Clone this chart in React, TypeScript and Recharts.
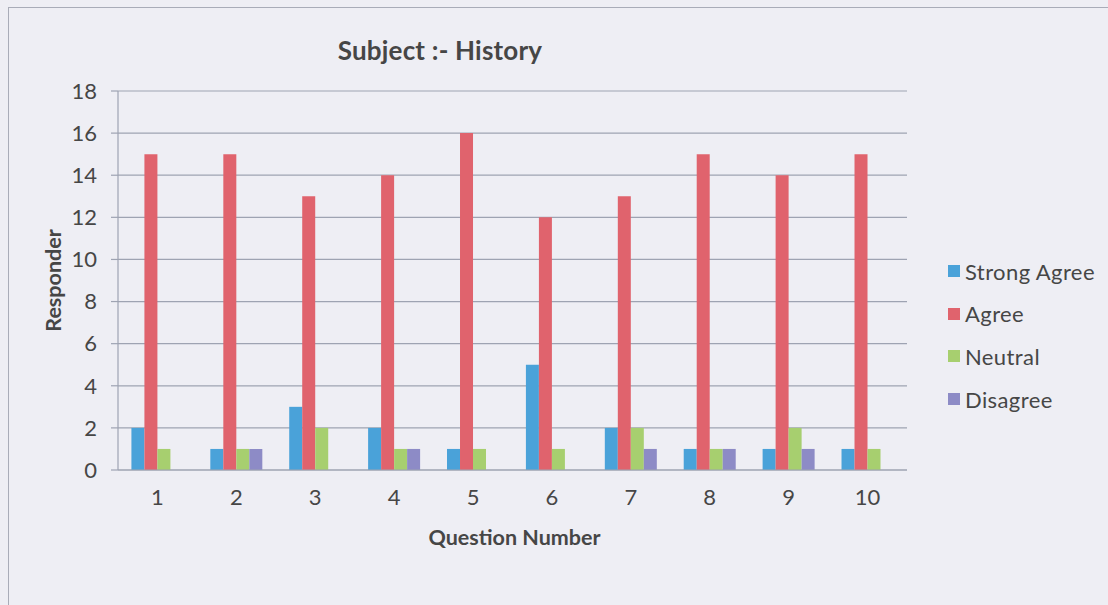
import React from 'react';
import { BarChart, Bar, XAxis, YAxis, CartesianGrid, Label } from 'recharts';

const categories = ['1', '2', '3', '4', '5', '6', '7', '8', '9', '10'];
const strongAgree = [2, 1, 3, 2, 1, 5, 2, 1, 1, 1];
const agree = [15, 15, 13, 14, 16, 12, 13, 15, 14, 15];
const neutral = [1, 1, 2, 1, 1, 1, 2, 1, 2, 1];
const disagree = [0, 1, 0, 1, 0, 0, 1, 1, 1, 0];
const yTicks = [0, 2, 4, 6, 8, 10, 12, 14, 16, 18];

const series = [
  { key: 'strongAgree', name: 'Strong Agree', color: '#4aa2d9' },
  { key: 'agree', name: 'Agree', color: '#e0636d' },
  { key: 'neutral', name: 'Neutral', color: '#a7cf6f' },
  { key: 'disagree', name: 'Disagree', color: '#8d8bc6' },
];

const data = categories.map((c, i) => ({
  q: c,
  strongAgree: strongAgree[i],
  agree: agree[i],
  neutral: neutral[i],
  disagree: disagree[i],
}));

const FONT = 'Lato, "Open Sans", sans-serif';
const TEXT = '#464646';
const GRID = '#9ea3b2';

export default function App() {
  return (
    <div style={{ position: 'absolute', left: 0, top: 0, width: 1108, height: 605, background: '#eeeef4', overflow: 'hidden', fontFamily: FONT }}>
      <div style={{ position: 'absolute', left: 8, top: 7, width: 1200, height: 700, border: '1.5px solid #a9acb8', boxSizing: 'border-box' }} />
      <div style={{ position: 'absolute', left: 0, top: 34, width: 880, textAlign: 'center', fontSize: 26, fontWeight: 700, color: TEXT, lineHeight: '32px', letterSpacing: 0.2 }}>
        Subject :- History
      </div>
      <div style={{ position: 'absolute', left: 0, top: 0 }}>
        <BarChart width={1108} height={605} data={data} margin={{ top: 91, right: 201, bottom: 0, left: 0 }} barCategoryGap="17%" barGap={0}>
          <CartesianGrid vertical={false} stroke={GRID} strokeWidth={1.2} />
          <XAxis dataKey="q" height={135} tickLine={false} tickSize={0} tickMargin={19} axisLine={{ stroke: GRID, strokeWidth: 1.2 }} tick={{ fill: TEXT, fontSize: 22, fontFamily: FONT }}>
            <Label
              content={(props: any) => {
                const vb = props.viewBox || {};
                return (
                  <text x={vb.x + vb.width / 2 + 2} y={vb.y + 67} textAnchor="middle" dominantBaseline="central" fill={TEXT} fontSize={21.5} fontWeight={700} fontFamily={FONT}>
                    Question Number
                  </text>
                );
              }}
            />
          </XAxis>
          <YAxis width={118} domain={[0, 18]} ticks={yTicks} interval={0} tickSize={7} tickMargin={14} tickLine={{ stroke: GRID, strokeWidth: 1.2 }} axisLine={{ stroke: GRID, strokeWidth: 1.2 }} tick={{ fill: TEXT, fontSize: 22, fontFamily: FONT }}>
            <Label
              content={(props: any) => {
                const vb = props.viewBox || {};
                const cy = vb.y + vb.height / 2;
                return (
                  <text x={53} y={cy} transform={`rotate(-90 53 ${cy})`} textAnchor="middle" dominantBaseline="central" fill={TEXT} fontSize={21.5} fontWeight={700} fontFamily={FONT}>
                    Responder
                  </text>
                );
              }}
            />
          </YAxis>
          {series.map((s) => (
            <Bar key={s.key} dataKey={s.key} name={s.name} fill={s.color} isAnimationActive={false} />
          ))}
        </BarChart>
      </div>
      {series.map((s, i) => (
        <div key={s.key} style={{ position: 'absolute', left: 948, top: 271 + i * 42.7 - 15, height: 30, display: 'flex', alignItems: 'center', fontSize: 22, color: TEXT, whiteSpace: 'nowrap', letterSpacing: 0.4 }}>
          <span style={{ display: 'inline-block', width: 12, height: 12, background: s.color, marginRight: 5 }} />
          {s.name}
        </div>
      ))}
    </div>
  );
}
